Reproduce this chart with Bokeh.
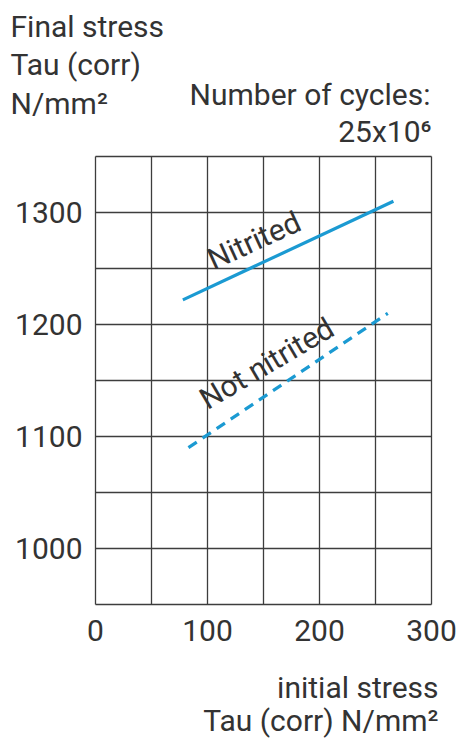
import math
from bokeh.plotting import figure
from bokeh.models import Range1d, FixedTicker, Label, LinearAxis
from bokeh.embed import file_html
from bokeh.resources import INLINE

# ---- data ----
x_ticks = [0, 100, 200, 300]
y_ticks = [1000, 1100, 1200, 1300]
grid_x = [0, 50, 100, 150, 200, 250, 300]
grid_y = [950, 1000, 1050, 1100, 1150, 1200, 1250, 1300, 1350]
nitrited_initial = [78, 266]
nitrited_final = [1222, 1310]
not_nitrited_initial = [83, 261]
not_nitrited_final = [1090, 1210]

X0, X1 = 0, 300
Y0, Y1 = 950, 1350

# canvas and where the chart box lies on it (pixels)
W, H = 462, 738
BOX_L, BOX_T, BOX_W, BOX_H = 95, 156, 336, 448

FONT = "Roboto"
TXT = "#333333"
GRID = "#3d3d3d"
BLUE = "#1b9ad2"


def dx(px):
    return X0 + (px - BOX_L) * (X1 - X0) / BOX_W


def dy(py):
    return Y1 - (py - BOX_T) * (Y1 - Y0) / BOX_H


p = figure(width=W, height=H, output_backend="svg", toolbar_location=None,
           x_range=Range1d(dx(0), dx(W)), y_range=Range1d(dy(H), dy(0)),
           x_axis_type=None, y_axis_type=None,
           min_border_left=0, min_border_right=0,
           min_border_top=0, min_border_bottom=0)
p.background_fill_color = "white"
p.border_fill_color = "white"
p.outline_line_color = None
p.grid.visible = False

# grid lines of the chart box
p.segment(x0=grid_x, y0=[Y0] * len(grid_x), x1=grid_x, y1=[Y1] * len(grid_x),
          line_color=GRID, line_width=1.3)
p.segment(x0=[X0] * len(grid_y), y0=grid_y, x1=[X1] * len(grid_y), y1=grid_y,
          line_color=GRID, line_width=1.3)

# axes fixed on the box edges
xax = LinearAxis(fixed_location=Y0, ticker=FixedTicker(ticks=x_ticks))
yax = LinearAxis(fixed_location=X0, ticker=FixedTicker(ticks=y_ticks))
for ax, standoff in ((xax, 15), (yax, 13)):
    ax.axis_line_color = None
    ax.major_tick_line_color = None
    ax.minor_tick_line_color = None
    ax.major_tick_out = 0
    ax.major_tick_in = 0
    ax.major_label_standoff = standoff
    ax.major_label_text_font = FONT
    ax.major_label_text_font_size = "30px"
    ax.major_label_text_color = TXT
p.add_layout(xax, "below")
p.add_layout(yax, "left")

p.line(nitrited_initial, nitrited_final, line_color=BLUE, line_width=3.2)
p.line(not_nitrited_initial, not_nitrited_final, line_color=BLUE, line_width=3.2,
       line_dash="10 7")


def add_text(txt, px, py, align="left", size=30, angle=0.0):
    # px, py: where the baseline starts/ends on the canvas; lift the anchor
    # to compensate Label's own baseline offset
    lift = 0.357 * size
    a = math.radians(angle)
    px -= lift * math.sin(a)
    py -= lift * math.cos(a)
    p.add_layout(Label(x=dx(px), y=dy(py), text=txt, text_align=align,
                       text_baseline="alphabetic", text_font=FONT,
                       text_font_size=f"{size}px", text_color=TXT, angle=angle,
                       angle_units="deg"))


add_text("Final stress", 10, 37)
add_text("Tau (corr)", 10, 75)
add_text("N/mm²", 10, 114)
add_text("Number of cycles:", 430, 105, align="right")
add_text("25x10⁶", 431, 142, align="right")
add_text("initial stress", 438, 698, align="right")
add_text("Tau (corr) N/mm²", 438, 731, align="right")
add_text("Nitrited", 213, 270, size=30, angle=24.5)
add_text("Not nitrited", 207, 410, size=30, angle=30.5)

open("out.html", "w").write(file_html(p, INLINE))
